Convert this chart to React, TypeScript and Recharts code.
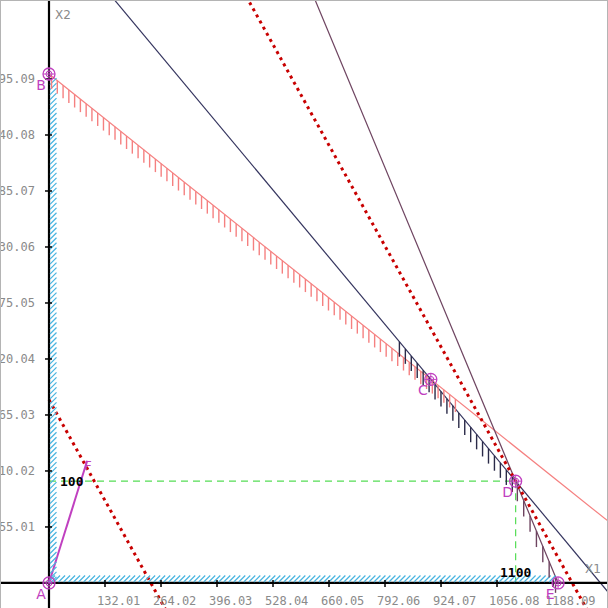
import React from 'react';
import { ComposedChart, XAxis, YAxis, Line, Scatter, ReferenceLine, ReferenceDot } from 'recharts';

// ---------- data ----------
const xTickValues = [132.01, 264.02, 396.03, 528.04, 660.05, 792.06, 924.07, 1056.08, 1188.09];
const xTickLabels = ['132.01', '264.02', '396.03', '528.04', '660.05', '792.06', '924.07', '1056.08', '1188.09'];
const yTickValues = [55.01, 110.02, 165.03, 220.04, 275.05, 330.06, 385.07, 440.08, 495.09];
const yTickLabels = ['55.01', '110.02', '165.03', '220.04', '275.05', '330.06', '385.07', '440.08', '495.09'];

const xDomain = [-115.5, 1317.7];
const yDomain = [-24.6, 572.7];

// feasible-region vertices
const vertexNames = ['A', 'B', 'C', 'D', 'E'];
const vertexX = [0, 0, 900, 1100, 1200];
const vertexY = [0, 500, 200, 100, 0];

// constraints a*x1 + b*x2 = c
const constraint1 = [1, 3, 1500];
const constraint2 = [1, 2, 1300];
const constraint3 = [1, 1, 1200];
// objective 3*x1 + 4*x2, two level lines
const objective = [3, 4];
const objectiveLevels = [720, 3700];
// gradient arrow end F
const gradientEnd = [90, 120];
// optimum guide values
const optimumX = 1100;
const optimumY = 100;

// ---------- helpers ----------
const lineY = (k: number[], x: number) => (k[2] - k[0] * x) / k[1];
const seg = (k: number[], xa: number, xb: number) => [
  { x: xa, y: lineY(k, xa) },
  { x: xb, y: lineY(k, xb) },
];
const anchors = (k: number[], xa: number, xb: number, step: number) => {
  const out: { x: number; y: number }[] = [];
  for (let x = xa; x <= xb; x += step) out.push({ x, y: lineY(k, x) });
  return out;
};

const redLine = seg(constraint1, 0, 1500);
const navyLine = seg(constraint2, 0, 1360);
const maroonLine = seg(constraint3, 0, 1200);
const obj1 = seg([objective[0], objective[1], objectiveLevels[0]], 0, 290);
const obj2 = seg([objective[0], objective[1], objectiveLevels[1]], 0, 1320);
const gradient = [{ x: 0, y: 0 }, { x: gradientEnd[0], y: gradientEnd[1] }];
const guideH = [{ x: 0, y: optimumY }, { x: optimumX, y: optimumY }];
const guideV = [{ x: optimumX, y: optimumY }, { x: optimumX, y: 0 }];

const redHatch = anchors(constraint1, 6, 968, 13.6);
const navyHatch = anchors(constraint2, 826, 1096, 14.0);
const maroonHatch = anchors(constraint3, 1104, 1196, 15);
const yAxisHatch: { x: number; y: number }[] = [];
for (let y = 3; y <= vertexY[1] - 3; y += 4.9) yAxisHatch.push({ x: 0, y });
const xAxisHatch: { x: number; y: number }[] = [];
for (let x = 6; x <= vertexX[4] - 6; x += 11.8) xAxisHatch.push({ x, y: 0 });

const vertices = vertexNames.map((n, i) => ({ name: n, x: vertexX[i], y: vertexY[i] }));

// ---------- styles ----------
const MAGENTA = '#c040c0';
const SALMON = '#f58080';
const NAVY = '#34345e';
const MAROON = '#6e4460';
const DOTRED = '#c80000';
const BLUE = '#48b4e0';
const GREEN = '#55dd55';
const TICKGRAY = '#8a8a8a';
const MONO = '"DejaVu Sans Mono", monospace';

const vLine = (color: string, len: number, w: number) => (p: any) => (
  <line x1={p.cx} y1={p.cy} x2={p.cx} y2={p.cy + len} stroke={color} strokeWidth={w} />
);

const YHatch = (p: any) => (
  <line x1={p.cx + 1} y1={p.cy + 3.5} x2={p.cx + 7.5} y2={p.cy - 3} stroke={BLUE} strokeWidth={1.2} />
);
const XHatch = (p: any) => (
  <line x1={p.cx - 3} y1={p.cy - 1} x2={p.cx + 3.5} y2={p.cy - 7.5} stroke={BLUE} strokeWidth={1.2} />
);

const VertexShape = (p: any) => {
  const { cx, cy, payload } = p;
  return (
    <g>
      <circle cx={cx} cy={cy} r={6} fill="none" stroke={MAGENTA} strokeWidth={1.3} />
      <circle cx={cx} cy={cy} r={3} fill="none" stroke={MAGENTA} strokeWidth={1} />
      <line x1={cx - 6} y1={cy} x2={cx + 6} y2={cy} stroke={MAGENTA} strokeWidth={1} />
      <line x1={cx} y1={cy - 6} x2={cx} y2={cy + 6} stroke={MAGENTA} strokeWidth={1} />
      <text x={cx - 8} y={cy + 16} textAnchor="middle" fontFamily='"DejaVu Sans", sans-serif' fontSize={14} fill={MAGENTA}>
        {payload.name}
      </text>
    </g>
  );
};

const XTick = (label: string) => (p: any) => (
  <g>
    <line x1={p.cx} y1={p.cy - 3} x2={p.cx} y2={p.cy + 4} stroke="#000" strokeWidth={1.5} />
    <text x={p.cx - 8} y={p.cy + 22} fontFamily={MONO} fontSize={12} fill={TICKGRAY}>{label}</text>
  </g>
);
const YTick = (label: string) => (p: any) => (
  <g>
    <line x1={p.cx - 4} y1={p.cy} x2={p.cx + 3} y2={p.cy} stroke="#000" strokeWidth={1.5} />
    <text x={p.cx - 14} y={p.cy + 4} textAnchor="end" fontFamily={MONO} fontSize={12} fill={TICKGRAY}>{label}</text>
  </g>
);

const lineProps = { type: 'linear' as const, dataKey: 'y', dot: false, activeDot: false, isAnimationActive: false, legendType: 'none' as const };

export default function App() {
  return (
    <div style={{ position: 'fixed', left: 0, top: 0, width: 608, height: 608, background: '#fff' }}>
      <ComposedChart width={608} height={608} margin={{ top: 0, right: 0, bottom: 0, left: 0 }}>
        <XAxis type="number" dataKey="x" domain={xDomain} allowDataOverflow hide />
        <YAxis type="number" dataKey="y" domain={yDomain} allowDataOverflow hide />

        <Scatter data={yAxisHatch} shape={YHatch} isAnimationActive={false} />
        <Scatter data={xAxisHatch} shape={XHatch} isAnimationActive={false} />
        <Scatter data={redHatch} shape={vLine(SALMON, 13, 1.4)} isAnimationActive={false} />
        <Scatter data={navyHatch} shape={vLine('#2a2a48', 15, 1.4)} isAnimationActive={false} />
        <Scatter data={maroonHatch} shape={vLine(MAROON, 16, 1.4)} isAnimationActive={false} />

        <Line data={redLine} {...lineProps} stroke={SALMON} strokeWidth={1.2} />
        <Line data={navyLine} {...lineProps} stroke={NAVY} strokeWidth={1.2} />
        <Line data={maroonLine} {...lineProps} stroke={MAROON} strokeWidth={1.2} />
        <Line data={obj1} {...lineProps} stroke={DOTRED} strokeWidth={3} strokeDasharray="3 4" />
        <Line data={obj2} {...lineProps} stroke={DOTRED} strokeWidth={3} strokeDasharray="3 4" />
        <Line data={guideH} {...lineProps} stroke={GREEN} strokeWidth={1.2} strokeDasharray="7 5" />
        <Line data={guideV} {...lineProps} stroke={GREEN} strokeWidth={1.2} strokeDasharray="7 5" />

        <ReferenceLine x={0} stroke="#000" strokeWidth={2.2} ifOverflow="visible" />
        <ReferenceLine y={0} stroke="#000" strokeWidth={2.2} ifOverflow="visible" />

        {xTickValues.map((v, i) => (
          <ReferenceDot key={'xt' + i} x={v} y={0} r={0} ifOverflow="visible" shape={XTick(xTickLabels[i])} />
        ))}
        {yTickValues.map((v, i) => (
          <ReferenceDot key={'yt' + i} x={0} y={v} r={0} ifOverflow="visible" shape={YTick(yTickLabels[i])} />
        ))}

        <ReferenceDot x={0} y={yDomain[1]} r={0} ifOverflow="visible"
          shape={(p: any) => <text x={p.cx + 6} y={p.cy + 19} fontFamily='"DejaVu Sans", sans-serif' fontSize={12} fill={TICKGRAY}>X2</text>} />
        <ReferenceDot x={xDomain[1]} y={0} r={0} ifOverflow="visible"
          shape={(p: any) => <text x={p.cx - 23} y={p.cy - 10} fontFamily='"DejaVu Sans", sans-serif' fontSize={12} fill={TICKGRAY}>X1</text>} />

        <ReferenceDot x={0} y={optimumY} r={0} ifOverflow="visible"
          shape={(p: any) => <text x={p.cx + 11} y={p.cy + 5} fontFamily={MONO} fontSize={13} fontWeight="bold" fill="#000">{String(optimumY)}</text>} />
        <ReferenceDot x={optimumX} y={0} r={0} ifOverflow="visible"
          shape={(p: any) => <text x={p.cx} y={p.cy - 6} textAnchor="middle" fontFamily={MONO} fontSize={13} fontWeight="bold" fill="#000">{String(optimumX)}</text>} />

        <Line data={gradient} {...lineProps} stroke={MAGENTA} strokeWidth={2} />
        <ReferenceDot x={gradientEnd[0]} y={gradientEnd[1]} r={0} ifOverflow="visible"
          shape={(p: any) => <text x={p.cx - 3} y={p.cy + 9} fontFamily='"DejaVu Sans", sans-serif' fontSize={13} fill={MAGENTA}>F</text>} />

        <Scatter data={vertices} shape={VertexShape} isAnimationActive={false} />
      </ComposedChart>
      <div style={{ position: 'absolute', left: 0, top: 0, width: 608, height: 608, boxSizing: 'border-box', borderTop: '1px solid #b4b4b4', borderLeft: '1px solid #b4b4b4', borderRight: '1px solid #b4b4b4', pointerEvents: 'none' }} />
    </div>
  );
}
